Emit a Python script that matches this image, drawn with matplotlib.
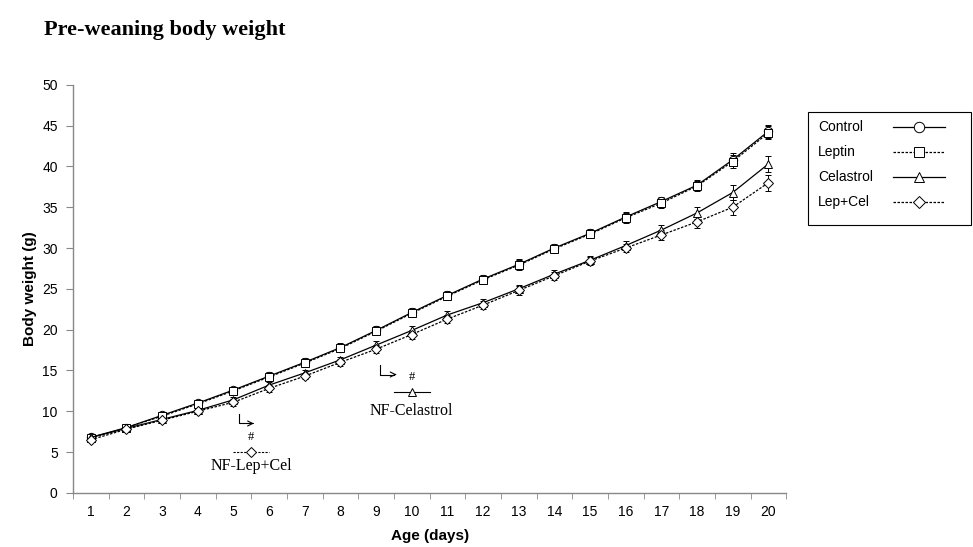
import numpy as np
import matplotlib
matplotlib.use("Agg")
import matplotlib.pyplot as plt
from matplotlib.lines import Line2D
from matplotlib.patches import Rectangle

# data (g)
days = list(range(1, 21))
control = [6.8, 8.0, 9.5, 11.0, 12.6, 14.3, 16.0, 17.8, 19.9, 22.1, 24.2, 26.2,
           28.0, 30.0, 31.8, 33.8, 35.7, 37.7, 40.8, 44.3]
leptin = [6.7, 8.0, 9.4, 10.9, 12.5, 14.2, 15.9, 17.7, 19.8, 22.0, 24.1, 26.1,
          27.9, 29.9, 31.7, 33.7, 35.5, 37.6, 40.6, 44.1]
celastrol = [6.8, 7.9, 9.0, 10.1, 11.4, 13.2, 14.7, 16.3, 18.1, 19.9, 21.8, 23.3,
             25.0, 26.8, 28.5, 30.3, 32.2, 34.3, 36.8, 40.3]
lepcel = [6.5, 7.8, 8.9, 10.0, 11.1, 12.8, 14.3, 16.0, 17.6, 19.4, 21.3, 23.0,
          24.8, 26.6, 28.4, 30.0, 31.6, 33.2, 35.0, 38.0]
err_top = [0.3, 0.3, 0.4, 0.4, 0.4, 0.5, 0.5, 0.5, 0.5, 0.5, 0.5, 0.5,
           0.6, 0.5, 0.5, 0.6, 0.6, 0.6, 0.8, 0.8]
err_bot = [0.3, 0.3, 0.3, 0.3, 0.4, 0.4, 0.4, 0.4, 0.5, 0.5, 0.5, 0.5,
           0.5, 0.5, 0.5, 0.5, 0.6, 0.7, 0.9, 1.0]

series = [
    ("Control", control, err_top, "o", "-"),
    ("Leptin", leptin, err_top, "s", (0, (2, 1.2))),
    ("Celastrol", celastrol, err_bot, "^", "-"),
    ("Lep+Cel", lepcel, err_bot, "D", (0, (2, 1.2))),
]

sans = ["Liberation Sans", "DejaVu Sans"]
serif = ["Liberation Serif", "DejaVu Serif"]

fig = plt.figure(figsize=(9.73, 5.47), dpi=100)
ax = fig.add_axes([0.075, 0.099, 0.733, 0.746])

for name, vals, err, mk, ls in series:
    ms = 5 if mk == "D" else 6
    ax.errorbar(days, vals, yerr=err, color="black", linestyle=ls, linewidth=0.9,
                marker=mk, markersize=ms, markerfacecolor="white",
                markeredgecolor="black", markeredgewidth=0.7,
                elinewidth=0.7, capsize=2, capthick=0.7)

ax.set_xlim(0.5, 20.5)
ax.set_ylim(0, 50)
ax.set_yticks(range(0, 51, 5))
ax.set_xticks(days)
ax.set_xticks(np.arange(0.5, 21, 1), minor=True)
ax.set_xticklabels([str(d) for d in days], fontfamily=sans, fontsize=10)
for lab in ax.get_yticklabels():
    lab.set_fontfamily(sans)
    lab.set_fontsize(10)
ax.tick_params(axis="x", which="major", length=0, pad=9)
ax.tick_params(axis="x", which="minor", length=4, direction="out", color="#888888")
ax.tick_params(axis="y", length=5, direction="out", color="#888888", pad=6)
for s in ["top", "right"]:
    ax.spines[s].set_visible(False)
for s in ["left", "bottom"]:
    ax.spines[s].set_color("#888888")
    ax.spines[s].set_linewidth(1.0)

ax.set_xlabel("Age (days)", fontfamily=sans, fontsize=11, fontweight="bold", labelpad=7)
ax.set_ylabel("Body weight (g)", fontfamily=sans, fontsize=11, fontweight="bold", labelpad=4)

fig.text(0.045, 0.945, "Pre-weaning body weight", fontfamily=serif, fontsize=16,
         fontweight="bold", va="center")

# annotations
def bent_arrow(x0, ytop, ymid, x1):
    ax.plot([x0, x0, x1], [ytop, ymid, ymid], color="black", lw=0.8)
    ax.annotate("", xy=(x1 + 0.15, ymid), xytext=(x1 - 0.05, ymid),
                arrowprops=dict(arrowstyle="->", lw=0.8, color="black",
                                mutation_scale=9))

# NF-Lep+Cel
bent_arrow(5.15, 9.7, 8.5, 5.5)
ax.text(5.5, 6.9, "#", ha="center", va="center", fontfamily=serif, fontsize=9)
ax.plot([5.0, 6.0], [5.0, 5.0], color="black", lw=0.8, linestyle=(0, (2, 1.2)))
ax.plot([5.5], [5.0], marker="D", markersize=5, markerfacecolor="white",
        markeredgecolor="black", markeredgewidth=0.7)
ax.text(5.5, 3.3, "NF-Lep+Cel", ha="center", va="center", fontfamily=serif, fontsize=11.5)

# NF-Celastrol
bent_arrow(9.1, 15.7, 14.5, 9.5)
ax.text(10.0, 14.2, "#", ha="center", va="center", fontfamily=serif, fontsize=9)
ax.plot([9.5, 10.5], [12.3, 12.3], color="black", lw=0.8)
ax.plot([10.0], [12.3], marker="^", markersize=6, markerfacecolor="white",
        markeredgecolor="black", markeredgewidth=0.7)
ax.text(10.0, 10.0, "NF-Celastrol", ha="center", va="center", fontfamily=serif, fontsize=11.5)

# legend box drawn by hand (Excel style: text left, sample right)
W, H = 973.0, 547.0
fig.patches.append(Rectangle((808 / W, 1 - 225 / H), 163 / W, 113 / H,
                             transform=fig.transFigure, fill=False,
                             edgecolor="black", linewidth=0.8))
for i, (name, _, _, mk, ls) in enumerate(series):
    yy = 1 - (127 + 25 * i) / H
    fig.text(818 / W, yy, name, fontfamily=sans, fontsize=10, va="center", ha="left")
    fig.add_artist(Line2D([893 / W, 945 / W], [yy, yy], transform=fig.transFigure,
                          color="black", linestyle=ls, lw=0.9))
    fig.add_artist(Line2D([919 / W], [yy], transform=fig.transFigure, marker=mk,
                          markersize=(6 if mk != "D" else 5) * 1.25,
                          markerfacecolor="white", markeredgecolor="black",
                          markeredgewidth=0.7, linestyle="none"))

fig.savefig("out.png", dpi=100, facecolor="white")
